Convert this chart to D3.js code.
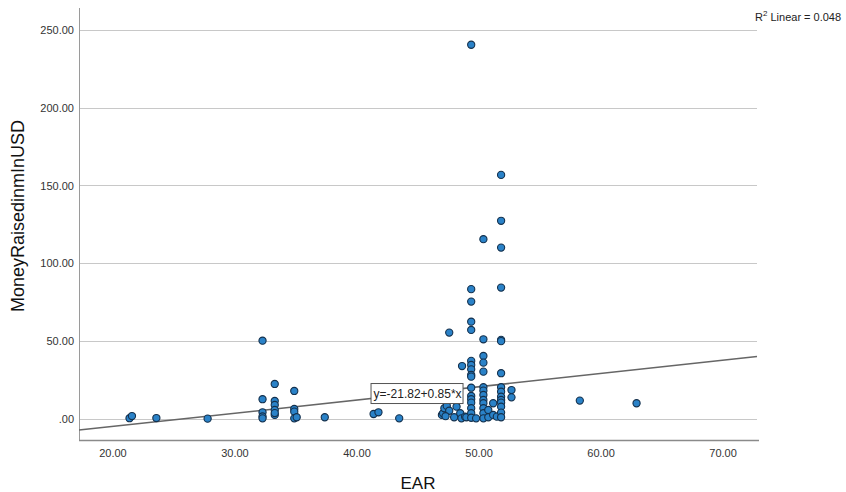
<!DOCTYPE html>
<html>
<head>
<meta charset="utf-8">
<script src="https://cdn.jsdelivr.net/npm/d3@7"></script>
<style>
  body { margin: 0; background: #fff; }
  svg { display: block; font-family: Arial, "Liberation Sans", sans-serif; }
</style>
</head>
<body>
<svg id="chart" width="846" height="492"></svg>
<script>
// ---- data (EAR, MoneyRaisedinmInUSD) ----
const earValues = [
  21.4, 21.6, 23.6, 27.8,
  32.3, 32.3, 32.3, 32.3, 32.3,
  33.3, 33.3, 33.3, 33.3, 33.3, 33.3,
  34.9, 34.9, 34.9, 34.9, 35.1,
  37.4, 41.4, 41.8, 43.5,
  47.0, 47.1, 47.2, 47.4, 47.6, 47.3, 48.0, 48.2, 48.5, 48.6, 48.9, 49.0,
  47.6, 48.65,
  49.4, 49.4, 49.4, 49.4, 49.4, 49.4, 49.4, 49.4, 49.4, 49.4, 49.4, 49.4, 49.4, 49.4, 49.4, 49.4, 49.4,
  50.4, 50.4, 50.4, 50.4, 50.4, 50.4, 50.4, 50.4, 50.4, 50.4, 50.4, 50.4, 50.4,
  49.8, 50.8, 50.8, 51.2, 51.2, 51.5,
  51.85, 51.85, 51.85, 51.85, 51.85, 51.85, 51.85, 51.85, 51.85, 51.85, 51.85, 51.85, 51.85, 51.85, 51.85,
  52.7, 52.7,
  58.3, 62.95
];
const moneyValues = [
  0.5, 1.9, 0.6, 0.2,
  50.3, 12.7, 4.3, 1.6, 0.4,
  22.5, 11.6, 9.0, 5.8, 2.6, 3.8,
  18.0, 6.4, 4.7, 0.4, 1.1,
  1.1, 3.2, 4.3, 0.4,
  2.6, 3.7, 6.9, 8.4, 5.3, 1.8, 1.1, 7.9, 3.7, 0.4, 1.5, 1.1,
  55.5, 34.0,
  240.4, 83.4, 75.4, 62.5, 57.2, 37.3, 34.7, 31.9, 28.3, 27.2, 20.1, 14.8, 12.7, 10.5, 6.9, 3.7, 0.8,
  115.5, 51.2, 40.5, 36.2, 30.4, 20.4, 18.2, 15.4, 12.2, 10.1, 6.9, 3.7, 0.4,
  0.4, 5.8, 1.1, 10.1, 2.6, 1.5,
  156.8, 127.3, 110.1, 84.4, 50.8, 50.0, 29.4, 20.4, 17.5, 14.3, 12.2, 10.5, 7.9, 4.1, 1.1,
  18.6, 13.9,
  11.8, 10.1
];
const xTicks = [20, 30, 40, 50, 60, 70];
const xTickLabels = ["20.00", "30.00", "40.00", "50.00", "60.00", "70.00"];
const yTicks = [0, 50, 100, 150, 200, 250];
const yTickLabels = [".00", "50.00", "100.00", "150.00", "200.00", "250.00"];
const fitIntercept = -21.82;
const fitSlope = 0.85;
const rSquared = "0.048";
const equationText = "y=-21.82+0.85*x";
const xTitle = "EAR";
const yTitle = "MoneyRaisedinmInUSD";

// ---- layout ----
const svg = d3.select("#chart");
const plotL = 79, plotR = 757, plotT = 8, plotB = 440;
const x = d3.scaleLinear().domain([17.26, 72.82]).range([plotL, plotR]);
const y = d3.scaleLinear().domain([-13.5, 264]).range([plotB, plotT]);

// gridlines
svg.append("g").selectAll("line").data(yTicks).join("line")
  .attr("x1", plotL).attr("x2", plotR)
  .attr("y1", d => Math.round(y(d)) + 0.5).attr("y2", d => Math.round(y(d)) + 0.5)
  .attr("stroke", "#c8c8c8").attr("stroke-width", 1);

// axes lines
svg.append("line").attr("x1", plotL + 0.5).attr("x2", plotL + 0.5)
  .attr("y1", plotT).attr("y2", plotB)
  .attr("stroke", "#9a9a9a").attr("stroke-width", 1);
svg.append("line").attr("x1", plotL).attr("x2", plotR + 2)
  .attr("y1", plotB + 0.5).attr("y2", plotB + 0.5)
  .attr("stroke", "#8a8a8a").attr("stroke-width", 1.5);

// axis tick labels via d3 axes (no tick lines)
const yAxis = d3.axisLeft(y).tickValues(yTicks)
  .tickFormat((d, i) => yTickLabels[i]).tickSize(0).tickPadding(5);
const ya = svg.append("g").attr("transform", `translate(${plotL},0)`).call(yAxis);
ya.select(".domain").remove();
ya.selectAll("text").attr("fill", "#333").style("font-size", "11px")
  .style("font-family", "Arial, 'Liberation Sans', sans-serif");

const xAxis = d3.axisBottom(x).tickValues(xTicks)
  .tickFormat((d, i) => xTickLabels[i]).tickSize(0).tickPadding(9);
const xa = svg.append("g").attr("transform", `translate(0,${plotB})`).call(xAxis);
xa.select(".domain").remove();
xa.selectAll("text").attr("fill", "#333").style("font-size", "11px")
  .style("font-family", "Arial, 'Liberation Sans', sans-serif");

// regression line
const x0 = x.domain()[0], x1 = x.domain()[1];
svg.append("line")
  .attr("x1", x(x0)).attr("y1", y(fitIntercept + fitSlope * x0))
  .attr("x2", x(x1)).attr("y2", y(fitIntercept + fitSlope * x1))
  .attr("stroke", "#666").attr("stroke-width", 1.5);

// points
const pts = earValues.map((e, i) => [e, moneyValues[i]]);
svg.append("g").selectAll("circle").data(pts).join("circle")
  .attr("cx", d => x(d[0])).attr("cy", d => y(d[1])).attr("r", 3.6)
  .attr("fill", "#2a82c8").attr("stroke", "#14304c").attr("stroke-width", 1.1);

// equation label box
const eqX = x(41.15), eqY = y(23.1);
const eq = svg.append("g").attr("transform", `translate(${eqX},${eqY})`);
eq.append("rect").attr("x", 0.5).attr("y", 0.5).attr("width", 92).attr("height", 20)
  .attr("fill", "#fff").attr("stroke", "#555").attr("stroke-width", 1);
eq.append("text").attr("x", 3).attr("y", 15).attr("fill", "#222")
  .style("font-size", "12px").text(equationText);

// R squared label
const rt = svg.append("text").attr("x", 755).attr("y", 21).attr("fill", "#222")
  .style("font-size", "11px");
rt.append("tspan").text("R");
rt.append("tspan").attr("dy", -5).style("font-size", "8px").text("2");
rt.append("tspan").attr("dy", 5).text(" Linear = " + rSquared);

// axis titles
svg.append("text").attr("x", 418).attr("y", 489).attr("text-anchor", "middle")
  .attr("fill", "#111").style("font-size", "17px").text(xTitle);
svg.append("text").attr("transform", "translate(24,216) rotate(-90)")
  .attr("text-anchor", "middle").attr("fill", "#111").style("font-size", "18px").text(yTitle);
</script>
</body>
</html>
